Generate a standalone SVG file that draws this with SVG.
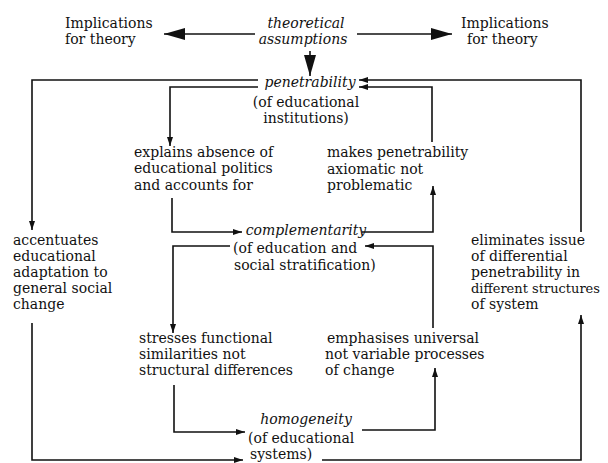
<svg xmlns="http://www.w3.org/2000/svg" width="608" height="463" viewBox="0 0 608 463">
<style>
text{font-family:"DejaVu Serif","Liberation Serif",serif;font-size:14px;fill:#111}
.i{font-style:italic}
.c{text-anchor:middle}
.ln{fill:none;stroke:#111;stroke-width:1.6}
</style>
<defs>
<marker id="s" markerUnits="userSpaceOnUse" markerWidth="10" markerHeight="7" refX="9" refY="3" orient="auto"><path d="M0,0 L9,3 L0,6 z" fill="#111"/></marker>
<marker id="b" markerUnits="userSpaceOnUse" markerWidth="22" markerHeight="13" refX="21" refY="6" orient="auto"><path d="M0,0 L21,6 L0,12 z" fill="#111"/></marker>
</defs>
<rect width="608" height="463" fill="#fff"/>
<g id="implL"><text x="65" y="28">Implications</text><text x="65" y="44">for theory</text></g>
<g id="implR"><text x="461" y="28">Implications</text><text x="467" y="44">for theory</text></g>
<g id="assumptions"><text class="i c" x="306" y="28">theoretical</text><text class="i c" x="303" y="44">assumptions</text></g>
<g id="penetrability"><text class="i c" x="310" y="87">penetrability</text><text class="c" x="306" y="107">(of educational</text><text class="c" x="306" y="123">institutions)</text></g>
<g id="explains"><text x="134" y="157">explains absence of</text><text x="134" y="173">educational politics</text><text x="134" y="190">and accounts for</text></g>
<g id="makes"><text x="327" y="157">makes penetrability</text><text x="327" y="174">axiomatic not</text><text x="327" y="190">problematic</text></g>
<g id="complementarity"><text class="i c" x="306" y="235">complementarity</text><text x="233" y="253">(of education and</text><text x="234" y="270">social stratification)</text></g>
<g id="accentuates"><text x="13" y="245">accentuates</text><text x="13" y="261">educational</text><text x="13" y="277">adaptation to</text><text x="13" y="293">general social</text><text x="13" y="309">change</text></g>
<g id="eliminates"><text x="471" y="245">eliminates issue</text><text x="471" y="261">of differential</text><text x="471" y="277">penetrability in</text><text x="471" y="293" style="font-size:13px">different structures</text><text x="471" y="309">of system</text></g>
<g id="stresses"><text x="139" y="343">stresses functional</text><text x="139" y="359">similarities not</text><text x="139" y="375">structural differences</text></g>
<g id="emphasises"><text x="327" y="343">emphasises universal</text><text x="325" y="359">not variable processes</text><text x="325" y="375">of change</text></g>
<g id="homogeneity"><text class="i c" x="306" y="424">homogeneity</text><text x="248" y="443">(of educational</text><text x="250" y="459">systems)</text></g>
<g id="connectors">
<path class="ln" d="M255,34 H164" marker-end="url(#b)"/>
<path class="ln" d="M357,34 H452" marker-end="url(#b)"/>
<path class="ln" d="M310,51 V76" marker-end="url(#b)"/>
<path class="ln" d="M258,80 H32 V230" marker-end="url(#s)"/>
<path class="ln" d="M258,87 H170 V146" marker-end="url(#s)"/>
<path class="ln" d="M172,198 V232 H242" marker-end="url(#s)"/>
<path class="ln" d="M362,232 H433 V186" marker-end="url(#s)"/>
<path class="ln" d="M432,142 V87 H359" marker-end="url(#s)"/>
<path class="ln" d="M581,232 V80 H359" marker-end="url(#s)"/>
<path class="ln" d="M230,246 H173 V333" marker-end="url(#s)"/>
<path class="ln" d="M433,328 V246 H365" marker-end="url(#s)"/>
<path class="ln" d="M174,385 V432 H245" marker-end="url(#s)"/>
<path class="ln" d="M362,430 H435 V368" marker-end="url(#s)"/>
<path class="ln" d="M32,323 V460 H243" marker-end="url(#s)"/>
<path class="ln" d="M322,460 H581 V315" marker-end="url(#s)"/>
</g>
</svg>
